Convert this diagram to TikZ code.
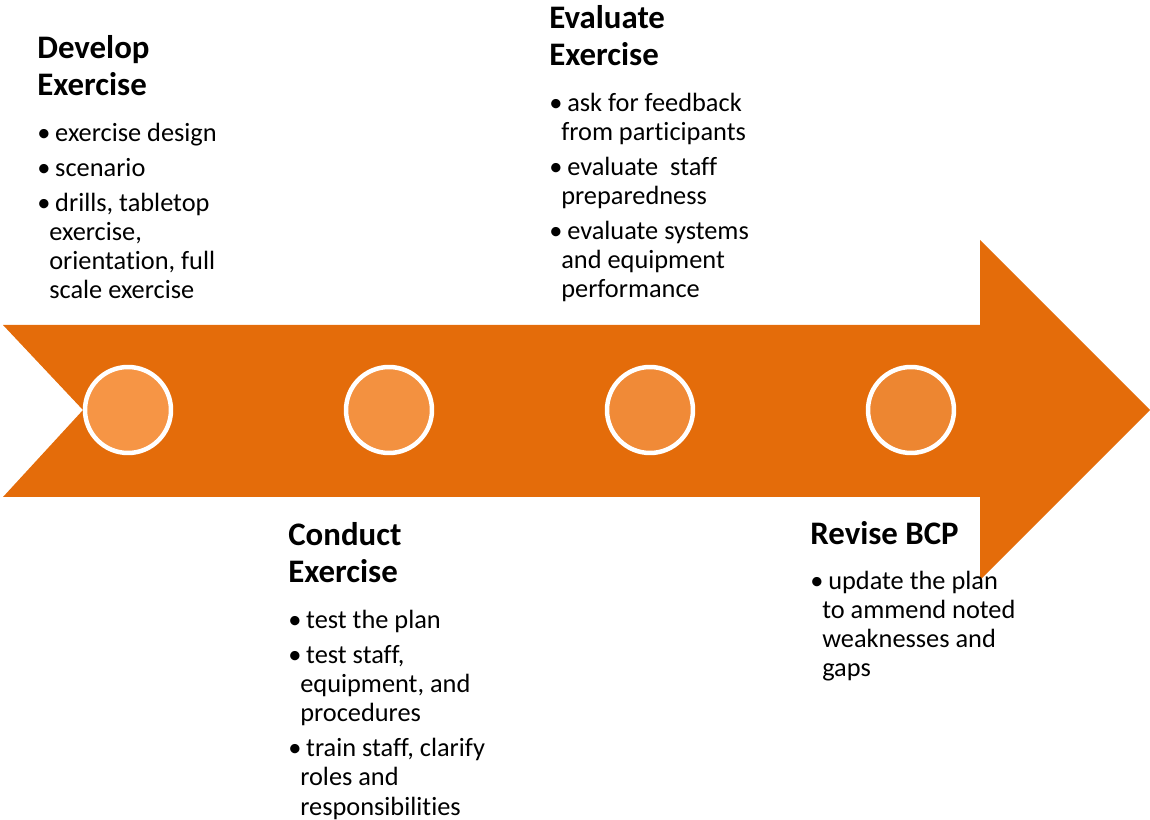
\documentclass[tikz,border=0pt]{standalone}
\usepackage{fontspec}
\setmainfont{Carlito}[Ligatures={NoCommon}]
\usetikzlibrary{positioning}
\definecolor{bandorange}{HTML}{E46C0A}
\definecolor{dotA}{HTML}{F69545}
\definecolor{dotB}{HTML}{F39140}
\definecolor{dotC}{HTML}{F08A37}
\definecolor{dotD}{HTML}{ED8631}
% bullet line and its hanging continuation
\newcommand{\itm}[1]{\makebox[6.8pt][l]{\textbullet}\ #1}
\newcommand{\cnt}[1]{\hspace*{6.8pt}#1}

\begin{document}
\begin{tikzpicture}[x=0.02cm, y=-0.02cm,
  heading/.style={anchor=base west, inner sep=0, align=left,
    font=\bfseries\fontsize{18.7}{21.5}\selectfont},
  points/.style={anchor=base west, inner sep=0, align=left,
    font=\fontsize{15}{16.6}\selectfont},
  stage/.style={circle, draw=white, line width=2.55pt, minimum size=1.72cm,
    inner sep=0}]
  \useasboundingbox (0,0) rectangle (1150,820);

  % ============ TIMELINE ARROW ============
  % notched tail on the left, head from x=980 to the tip
  \fill[bandorange] (3,325) -- (980,325) -- (980,240) -- (1150,410)
    -- (980,580) -- (980,497) -- (3,497) -- (83,410) -- cycle;

  % ============ STAGE MARKERS ============
  \node[stage, fill=dotA] (s1) at (128,410) {};
  \node[stage, fill=dotB] (s2) at (389,410) {};
  \node[stage, fill=dotC] (s3) at (650,410) {};
  \node[stage, fill=dotD] (s4) at (911,410) {};

  % ============ ABOVE THE ARROW ============
  % multi-line nodes sit on the baseline of their last line
  \node[heading] (develophead) at (37,96) {Develop\\Exercise};
  \node[points] (developlist) at (37,299)
    {\itm{exercise design}\\[3.4pt]
     \itm{scenario}\\[3.4pt]
     \itm{drills, tabletop}\\
     \cnt{exercise,}\\
     \cnt{orientation, full}\\
     \cnt{scale exercise}};

  \node[heading] (evalhead) at (549,66) {Evaluate\\Exercise};
  \node[points] (evallist) at (549,298)
    {\itm{ask for feedback}\\
     \cnt{from participants}\\[3.4pt]
     \itm{evaluate\ \ staff}\\
     \cnt{preparedness}\\[3.4pt]
     \itm{evaluate systems}\\
     \cnt{and equipment}\\
     \cnt{performance}};

  % ============ BELOW THE ARROW ============
  \node[heading] (conducthead) at (288,583) {Conduct\\Exercise};
  \node[points] (conductlist) at (288,815)
    {\itm{test the plan}\\[3.4pt]
     \itm{test staff,}\\
     \cnt{equipment, and}\\
     \cnt{procedures}\\[3.4pt]
     \itm{train staff, clarify}\\
     \cnt{roles and}\\
     \cnt{responsibilities}};

  \node[heading] (revisehead) at (810,545) {Revise BCP};
  \node[points] (reviselist) at (810,677)
    {\itm{update the plan}\\
     \cnt{to ammend noted}\\
     \cnt{weaknesses and}\\
     \cnt{gaps}};
\end{tikzpicture}
\end{document}
